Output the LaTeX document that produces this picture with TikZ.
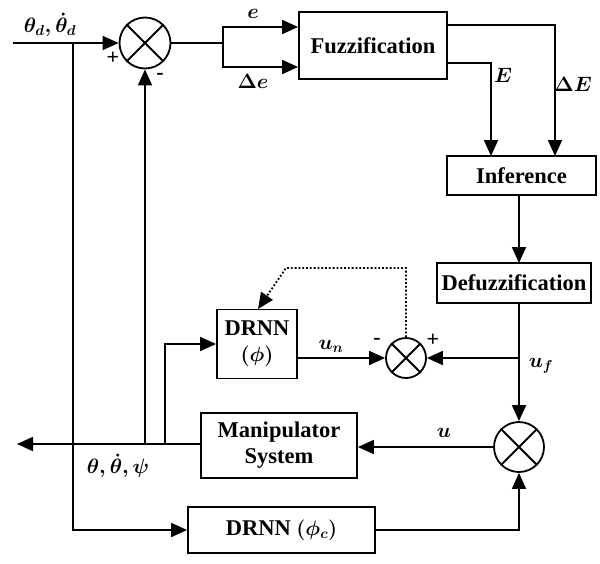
\documentclass[tikz,border=0pt]{standalone}
\usepackage{fontspec}
\usepackage{amsmath}
\setmainfont{Liberation Serif}
\usetikzlibrary{arrows.meta,calc}
\begin{document}
\begin{tikzpicture}[x=1pt,y=-1pt, line width=1.8pt,
 box/.style={draw, rectangle, inner sep=0pt, font=\fontsize{22.5}{26}\selectfont\bfseries\boldmath, align=center},
 sumc/.style={draw, circle, inner sep=0pt},
 arr/.style={-{Triangle[length=16pt,width=14pt]}},
 lab/.style={font=\fontsize{22}{24}\selectfont\boldmath, inner sep=0pt},
 sgn/.style={font=\fontsize{22}{24}\selectfont\bfseries, inner sep=0pt}]
\useasboundingbox (0,0) rectangle (600,563);

% nodes
\node[sumc, minimum size=51pt] (s1) at (145,43) {};
\node[box, minimum width=148pt, minimum height=67pt] (fuzz) at (373,45.5) {Fuzzification};
\node[box, minimum width=149pt, minimum height=39pt] (inf) at (521.5,175.5) {Inference};
\node[box, minimum width=154pt, minimum height=40pt] (defz) at (514,283) {Defuzzification};
\node[box, minimum width=80pt, minimum height=69pt] (drnn) at (257,344) {DRNN\\$(\phi)$};
\node[sumc, minimum size=40pt] (s2) at (406,358) {};
\node[sumc, minimum size=50pt] (s3) at (519,447) {};
\node[box, minimum width=156pt, minimum height=65pt] (manip) at (279,445.5) {Manipulator\\System};
\node[box, minimum width=187pt, minimum height=46pt] (drnnc) at (281.5,530) {DRNN $(\phi_c)$};

\foreach \s in {s1,s2,s3}{
  \draw (\s.north east) -- (\s.south west) (\s.north west) -- (\s.south east);
}

% coordinates
\coordinate (in) at (13,43);
\coordinate (out) at (17,444);
\coordinate (b1) at (73,43);
\coordinate (split) at (223,43);
\coordinate (fbj) at (145,444);
\coordinate (dj) at (165,444);
\coordinate (ufj) at (519,358);

% input and branches
\draw[arr] (in) -- (s1.west);
\draw[arr] (b1) |- (drnnc.west);
\draw[arr] (manip.west |- out) -- (out);
\draw[arr] (fbj) -- (s1.south);
\draw[arr] (dj) |- (drnn.west);

% to fuzzification
\draw (s1.east) -- (split);
\draw[arr] (split) |- (fuzz.west |- 0,27);
\draw[arr] (split) |- (fuzz.west |- 0,67);

% fuzzification to inference
\draw[arr] (fuzz.east |- 0,25) -| (555,156);
\draw[arr] (fuzz.east |- 0,63) -| (491,156);
\draw[arr] (519,195) -- (519,263);
\draw[arr] (519,303) -- (s3.north);
\draw[arr] (ufj) -- (s2.east);
\draw[arr] (drnn.east |- s2.west) -- (s2.west);
\draw[dotted, arr] (s2.north) |- (286,268) -- (258,309);
\draw[arr] (s3.west) -- (manip.east |- s3.west);
\draw[arr] (drnnc.east) -| (s3.south);

% labels
\node[lab] at (50,25) {$\theta_d,\dot{\theta}_d$};
\node[lab] at (118,466) {$\theta,\dot{\theta},\psi$};
\node[lab] at (253,14) {$e$};
\node[lab] at (253,81) {$\Delta e$};
\node[lab] at (503,75) {$E$};
\node[lab] at (573,84) {$\Delta E$};
\node[lab] at (331,346) {$u_n$};
\node[lab] at (541,366) {$u_f$};
\node[lab] at (444,433) {$u$};
\node[sgn] at (113,58) {+};
\node[sgn] at (160,76) {-};
\node[sgn] at (377,341) {-};
\node[sgn] at (433,340) {+};
\end{tikzpicture}
\end{document}
